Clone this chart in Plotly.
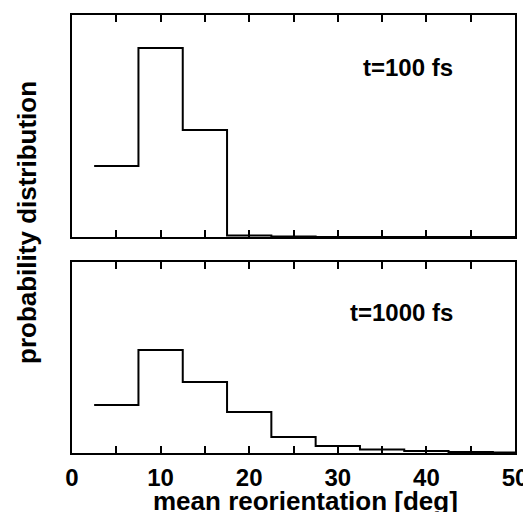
import plotly.graph_objects as go

# DATA (arbitrary units)
bin_centers = [5, 10, 15, 20, 25, 30, 35, 40, 45, 50]
p_100fs = [71, 189, 107, 1.5, 0.5, 0, 0, 0, 0, 0]
p_1000fs = [48, 103, 71, 41, 16, 7, 3.5, 2, 1, 0.5]
x_ticks = [0, 10, 20, 30, 40, 50]
labels = ["t=100 fs", "t=1000 fs"]

# step edges: each bin spans center +/- 2.5
def steps(vals):
    xs = [c - 2.5 for c in bin_centers]
    ys = list(vals)
    xs.append(bin_centers[-1])
    ys.append(vals[-1])
    return xs, ys

FONT = "Liberation Sans, Arial, Helvetica, sans-serif"

fig = go.Figure()
for i, vals in enumerate([p_100fs, p_1000fs]):
    xs, ys = steps(vals)
    fig.add_trace(go.Scatter(x=xs, y=ys, mode="lines", line_shape="hv",
                             xaxis="x" if i == 0 else "x2", yaxis="y" if i == 0 else "y2",
                             line=dict(color="black", width=2), showlegend=False))

ax = dict(range=[0, 50], showgrid=False, zeroline=False, showline=True, linecolor="black",
          linewidth=2, mirror="ticks", ticks="inside", ticklen=7, tickwidth=2,
          tickcolor="black", automargin=False)
ay = dict(showgrid=False, zeroline=False, showline=True, linecolor="black", linewidth=2,
          mirror=True, ticks="", showticklabels=False, automargin=False)

tickvals = list(range(0, 51, 5))
ticktext = ["<b>%s</b>" % (str(v) if v in x_ticks else "") for v in tickvals]

fig.update_layout(
    xaxis=dict(**ax, anchor="y", domain=[0, 1], tickvals=tickvals, showticklabels=False),
    yaxis=dict(**ay, anchor="x", domain=[0.493, 1], range=[0, 222]),
    xaxis2=dict(**ax, anchor="y2", domain=[0, 1], tickvals=tickvals, ticktext=ticktext,
                ticklabelstandoff=2,
                tickfont=dict(family=FONT, size=24, color="black")),
    yaxis2=dict(**ay, anchor="x2", domain=[0, 0.436], range=[0, 191]),
)

fig.add_annotation(x=37.9, y=170, xref="x", yref="y", text="<b>" + labels[0] + "</b>",
                   showarrow=False, font=dict(family=FONT, size=24, color="black"))
fig.add_annotation(x=37.2, y=141, xref="x2", yref="y2", text="<b>" + labels[1] + "</b>",
                   showarrow=False, font=dict(family=FONT, size=24, color="black"))
# axis titles
fig.add_annotation(x=0.528, y=0, xref="paper", yref="paper", xanchor="center",
                   yanchor="middle", yshift=-48, showarrow=False,
                   text="<b>mean reorientation [deg]</b>",
                   font=dict(family=FONT, size=26, color="black"))
fig.add_annotation(x=-0.102, y=0.527, xref="paper", yref="paper", xanchor="center",
                   yanchor="middle", textangle=-90, showarrow=False,
                   text="<b>probability distribution</b>",
                   font=dict(family=FONT, size=26, color="black"))

# page body adds an 8px offset, so the figure is 8px smaller than the window
fig.update_layout(width=523, height=504, margin=dict(l=64, r=16, t=7, b=59),
                  plot_bgcolor="white", paper_bgcolor="white")

fig.write_html("out.html")
